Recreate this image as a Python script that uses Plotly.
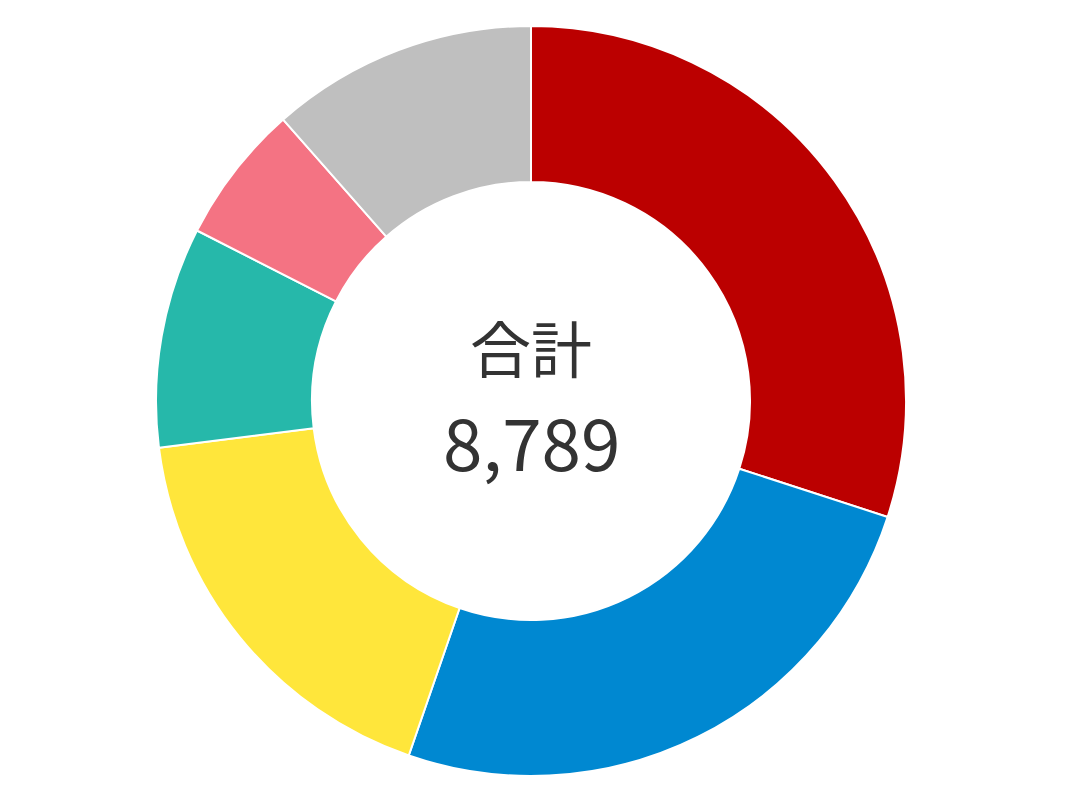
import plotly.graph_objects as go

labels = ["A", "B", "C", "D", "E", "F"]
values = [2637, 2222, 1558, 835, 527, 1010]
colors = ["#BB0000", "#0088D1", "#FFE63B", "#26B8AA", "#F47383", "#BFBFBF"]
center_label = "合計"
total_text = "8,789"

fig = go.Figure(go.Pie(
    labels=labels,
    values=values,
    hole=0.584,
    sort=False,
    direction="clockwise",
    rotation=0,
    marker=dict(colors=colors, line=dict(color="white", width=2)),
    textinfo="none",
    hoverinfo="label+value",
))

fig.update_layout(
    width=1070, height=804,
    margin=dict(l=0, r=24, t=18, b=36),
    showlegend=False,
    paper_bgcolor="white",
    font=dict(family="Noto Sans CJK JP", color="#333333"),
    annotations=[
        dict(text=center_label, x=0.5, y=(774 - 344) / 750, xref="paper", yref="paper",
             showarrow=False, font=dict(size=61, color="#333333", family="Noto Sans CJK JP"),
             xanchor="center", yanchor="middle"),
        dict(text=total_text, x=0.5, y=(774 - 438) / 750, xref="paper", yref="paper",
             showarrow=False, font=dict(size=71, color="#333333", family="Noto Sans CJK JP"),
             xanchor="center", yanchor="middle"),
    ],
)

fig.write_html("out.html")
